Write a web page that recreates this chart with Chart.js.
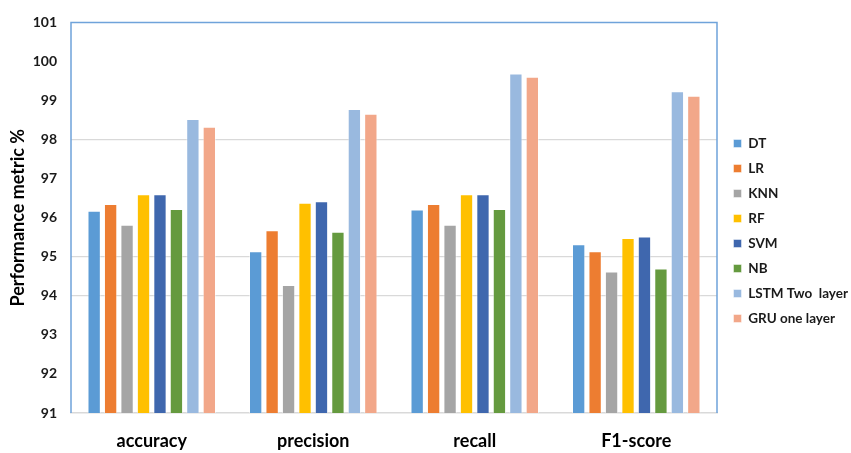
<!DOCTYPE html>
<html>
<head>
<meta charset="utf-8">
<title>Performance metric</title>
<script src="https://cdn.jsdelivr.net/npm/chart.js@4.4.1/dist/chart.umd.min.js"></script>
<style>
  html, body { margin: 0; padding: 0; background: #fff; }
  #wrap { width: 851px; height: 453px; }
</style>
</head>
<body>
<div id="wrap"><canvas id="grafico"></canvas></div>
<script>
const categorias = ['accuracy', 'precision', 'recall', 'F1-score'];
const modelos = ['DT', 'LR', 'KNN', 'RF', 'SVM', 'NB', 'LSTM Two  layer', 'GRU one layer'];
const cores = ['#5b9bd5', '#ed7d31', '#a5a5a5', '#ffc000', '#3f67ae', '#659a3f', '#99b9df', '#f2a789'];

// valores por modelo: accuracy, precision, recall, F1-score
const dt   = [96.18, 95.14, 96.21, 95.32];
const lr   = [96.35, 95.68, 96.35, 95.14];
const knn  = [95.82, 94.28, 95.82, 94.62];
const rf   = [96.60, 96.38, 96.60, 95.48];
const svm  = [96.60, 96.42, 96.60, 95.52];
const nb   = [96.22, 95.64, 96.22, 94.70];
const lstm = [98.53, 98.78, 99.69, 99.24];
const gru  = [98.33, 98.66, 99.61, 99.12];
const series = [dt, lr, knn, rf, svm, nb, lstm, gru];

const yTicks = [91, 92, 93, 94, 95, 96, 97, 98, 99, 100, 101];
const linhasVisiveis = [94, 95, 98];

const fonte = 'Lato, "Open Sans", sans-serif';

const larguraLegenda = {
  id: 'larguraLegenda',
  beforeInit(chart) {
    const fitOriginal = chart.legend.fit;
    chart.legend.fit = function () {
      fitOriginal.call(this);
      this.width = 134;
    };
  },
  afterLayout(chart) {
    chart.legend.left += 5;
    chart.legend.top -= 3;
    chart.legend.bottom -= 3;
  }
};

const moldura = {
  id: 'moldura',
  afterDatasetsDraw(chart) {
    const { ctx, chartArea: a } = chart;
    ctx.save();
    ctx.strokeStyle = '#6fa3da';
    ctx.lineWidth = 1.5;
    ctx.beginPath();
    ctx.moveTo(a.left, a.bottom);
    ctx.lineTo(a.left, a.top);
    ctx.lineTo(a.right, a.top);
    ctx.lineTo(a.right, a.bottom);
    ctx.stroke();
    ctx.restore();
  }
};

const ctx = document.getElementById('grafico');

const grafico = new Chart(ctx, {
  type: 'bar',
  data: {
    labels: categorias,
    datasets: modelos.map((nome, i) => ({
      label: nome,
      data: series[i],
      backgroundColor: cores[i],
      borderColor: 'rgba(255,255,255,0.45)',
      borderWidth: 1,
      barPercentage: 0.81,
      categoryPercentage: 0.815
    }))
  },
  options: {
    responsive: true,
    maintainAspectRatio: false,
    animation: false,
    layout: { padding: { top: 15, right: 0, bottom: 0, left: 0 } },
    plugins: {
      tooltip: { enabled: false },
      legend: {
        position: 'right',
        align: 'center',
        labels: {
          boxWidth: 8,
          boxHeight: 8,
          padding: 11.5,
          color: '#1a1a1a',
          font: { family: fonte, size: 13.5, weight: 'bold' }
        }
      }
    },
    scales: {
      x: {
        grid: { display: false },
        border: { display: true, color: '#d9d9d9', width: 1.5 },
        ticks: {
          color: '#000',
          padding: 9,
          font: { family: fonte, size: 18, weight: 'bold' }
        },
        afterFit(scale) { scale.height = 40; }
      },
      y: {
        min: 91,
        max: 101,
        afterBuildTicks(scale) { scale.ticks = yTicks.map(v => ({ value: v })); },
        border: { display: false },
        grid: {
          drawTicks: false,
          lineWidth: 1.2,
          color: c => linhasVisiveis.includes(c.tick.value) ? '#d9d9d9' : 'rgba(0,0,0,0)'
        },
        ticks: {
          color: '#1a1a1a',
          padding: 14,
          font: { family: fonte, size: 14, weight: 'bold' }
        },
        title: {
          display: true,
          text: 'Performance metric %',
          color: '#000',
          padding: { top: 7, bottom: 0 },
          font: { family: fonte, size: 18, weight: 'bold' }
        },
        afterFit(scale) { scale.width = 71; }
      }
    }
  },
  plugins: [larguraLegenda, moldura]
});
</script>
</body>
</html>
